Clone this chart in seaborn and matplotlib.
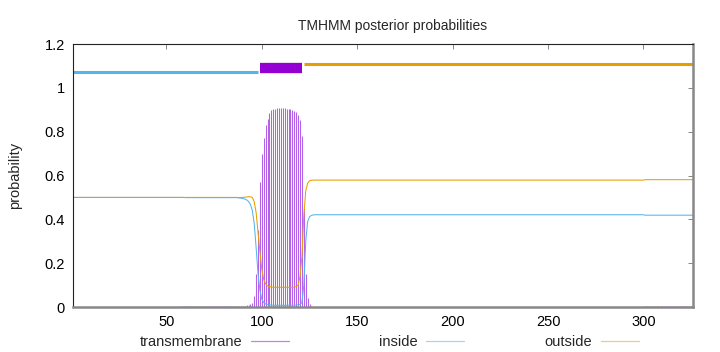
"""
TMHMM posterior probabilities

Per-residue posterior probabilities for transmembrane / inside / outside,
with the predicted topology drawn as bars above the curves.
"""

import pandas as pd
import matplotlib.pyplot as plt
import seaborn as sns
from matplotlib.ticker import FuncFormatter

# 🔧 Data
SEQ_LENGTH = 326
residues = list(range(1, SEQ_LENGTH + 1))

# transmembrane posterior (impulses)
tm_prob = ([0.0] * 56 + [0.003] * 31 +
           [0.004, 0.004, 0.005, 0.006, 0.008, 0.010, 0.012, 0.020, 0.050, 0.150,
            0.350, 0.570, 0.700, 0.770, 0.830, 0.860, 0.885, 0.897, 0.903, 0.905,
            0.906, 0.906, 0.906, 0.906, 0.906, 0.905, 0.904, 0.902, 0.899, 0.895,
            0.888, 0.878, 0.855, 0.780, 0.450, 0.150, 0.040, 0.012, 0.005, 0.002] +
           [0.001] * 172 + [0.004] * 27)

# inside posterior
inside_prob = ([0.500] * 59 + [0.499] * 28 +
               [0.498, 0.497, 0.495, 0.493, 0.489, 0.482, 0.468, 0.440, 0.380, 0.270,
                0.150, 0.075, 0.035, 0.020, 0.014, 0.011, 0.010, 0.009] +
               [0.008] * 11 +
               [0.008, 0.009, 0.010, 0.012, 0.020, 0.100, 0.300, 0.390, 0.412, 0.418,
                0.420] +
               [0.421] * 173 + [0.419] * 26)

# outside posterior
outside_prob = ([0.500] * 87 +
                [0.499, 0.500, 0.500, 0.501, 0.502, 0.503, 0.503, 0.500, 0.480, 0.430,
                 0.340, 0.250, 0.170, 0.125, 0.105, 0.096, 0.093, 0.092] +
                [0.090] * 11 +
                [0.091, 0.093, 0.100, 0.140, 0.230, 0.420, 0.530, 0.565, 0.576, 0.578,
                 0.579] +
                [0.579] * 173 + [0.581] * 26)

# predicted topology segments
topo_labels = ['inside', 'TMhelix', 'outside']
topo_start = [1, 99, 122]
topo_end = [98, 121, 326]
topo_level = [1.07, 1.09, 1.11]

# 🎨 Style
C_TM = '#9400d3'
C_IN = '#56b4e9'
C_OUT = '#e69f00'
topo_colors = {'inside': C_IN, 'TMhelix': C_TM, 'outside': C_OUT}
topo_widths = {'inside': 2.2, 'TMhelix': 7.4, 'outside': 2.2}

sns.set_theme(style='white')
plt.rcParams['font.family'] = ['Liberation Sans', 'DejaVu Sans']
plt.rcParams['font.size'] = 10.5


def main():
    df = pd.DataFrame({'residue': residues,
                       'transmembrane': tm_prob,
                       'inside': inside_prob,
                       'outside': outside_prob})

    fig = plt.figure(figsize=(7.2, 3.52), dpi=100)
    ax = fig.add_axes([0.1014, 0.1278, 0.8611, 0.7472])

    # 📈 posterior curves
    ax.vlines(df['residue'], 0, df['transmembrane'],
              color='#b560e8', linewidth=0.75)
    sns.lineplot(data=df, x='residue', y='inside', ax=ax,
                 color=C_IN, linewidth=0.75)
    sns.lineplot(data=df, x='residue', y='outside', ax=ax,
                 color=C_OUT, linewidth=0.75)

    # topology bars
    for lab, x0, x1, y in zip(topo_labels, topo_start, topo_end, topo_level):
        ax.hlines(y, x0, x1, color=topo_colors[lab],
                  linewidth=topo_widths[lab], capstyle='butt')

    ax.set_xlim(1, SEQ_LENGTH)
    ax.set_ylim(0, 1.2)
    ax.set_xticks([50, 100, 150, 200, 250, 300])
    ax.set_yticks([0, 0.2, 0.4, 0.6, 0.8, 1.0, 1.2])
    ax.yaxis.set_major_formatter(FuncFormatter(lambda v, _: f'{v:g}'))
    ax.tick_params(direction='in', length=3.5, width=0.5, colors='#555555',
                   top=True, right=True, pad=6, labelsize=10.5)
    ax.tick_params(labelcolor='black')

    ax.set_xlabel('')
    ax.set_ylabel('probability', fontsize=10.5)
    ax.yaxis.set_label_coords(-0.083, 0.5)
    ax.set_title('TMHMM posterior probabilities', fontsize=10, pad=10, x=0.516)

    for side in ['top', 'left']:
        ax.spines[side].set_color('#222222')
        ax.spines[side].set_linewidth(0.8)
    for side in ['bottom', 'right']:
        ax.spines[side].set_color('#888888')
        ax.spines[side].set_linewidth(1.8)

    # legend: text first, sample line after, one column each
    leg_handles = [plt.Line2D([], [], color='#c084e6', linewidth=0.9),
                   plt.Line2D([], [], color='#a6d6ee', linewidth=0.9),
                   plt.Line2D([], [], color='#f0cc80', linewidth=0.9)]
    leg_labels = ['transmembrane', 'inside', 'outside']
    leg_right = [289, 464, 639]
    for h, lab, xr in zip(leg_handles, leg_labels, leg_right):
        fig.legend([h], [lab], loc='center right', markerfirst=False,
                   bbox_to_anchor=(xr / 720, 1 - 342 / 352), frameon=False,
                   handlelength=2.6, handletextpad=0.6, borderpad=0,
                   borderaxespad=0, fontsize=10.5)

    fig.savefig('out.png', dpi=100)
    plt.close(fig)


if __name__ == '__main__':
    main()
